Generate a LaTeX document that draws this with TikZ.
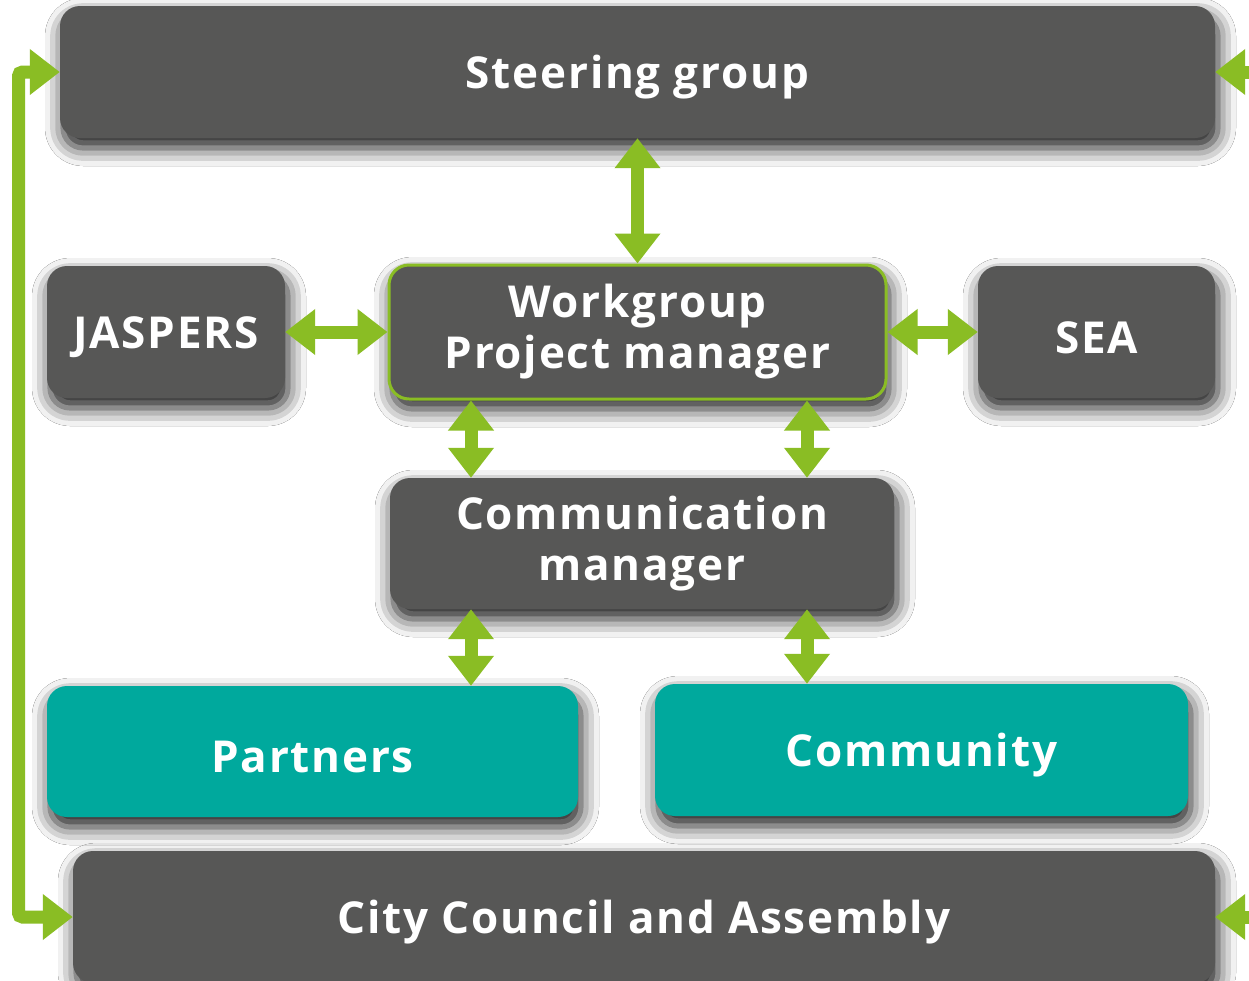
\documentclass[tikz,border=0pt]{standalone}
\usepackage{fontspec}
\setmainfont{Open Sans}[LetterSpace=4]
\usetikzlibrary{arrows.meta,shadows.blur,calc}
\definecolor{boxgray}{HTML}{575756}
\definecolor{agreen}{HTML}{8ABD24}
\definecolor{teal}{HTML}{00A99D}
\tikzset{
  box/.style={rectangle, rounded corners=20pt, fill=boxgray, text=white,
    font=\fontsize{44}{51}\selectfont\bfseries, align=center, inner sep=0pt,
    execute at begin node={\rule{0pt}{43pt}},
    blur shadow={shadow xshift=3pt, shadow yshift=-10pt, shadow blur radius=18pt, shadow opacity=90}},
  tealbox/.style={box, fill=teal},
  biarrow/.style={draw=agreen, line width=13pt,
    {Triangle[width=44pt,length=30pt]}-{Triangle[width=44pt,length=30pt]}},
  oneway/.style={draw=agreen, line width=13pt, -{Triangle[width=44pt,length=30pt]}},
}
\begin{document}
\begin{tikzpicture}[x=1pt,y=-1pt]
\useasboundingbox (0,0) rectangle (1249,980);
\fill[white] (0,0) rectangle (1249,980);
\node[box, minimum width=1155pt, minimum height=132pt] (steer) at (637.5,72) {Steering group};
\node[box, minimum width=238pt, minimum height=132pt] (jas) at (166,332) {JASPERS};
\node[box, minimum width=497pt, minimum height=134pt, draw=agreen, line width=3pt] (work) at (637.5,332) {Workgroup\\Project manager};
\node[box, minimum width=237pt, minimum height=132pt] (sea) at (1096.5,332) {SEA};
\node[box, minimum width=504pt, minimum height=131pt] (comm) at (642,543.5) {Communication\\manager};
\node[tealbox, minimum width=531pt, minimum height=131pt] (part) at (312.5,751.5) {Partners};
\node[tealbox, minimum width=533pt, minimum height=132pt] (commu) at (921.5,750) {Community};
\node[box, minimum width=1142pt, minimum height=132pt] (city) at (644,917) {City Council and Assembly};

\coordinate (xa) at (471,0);
\coordinate (xb) at (807,0);
\coordinate (loopx) at (18.5,0);
\coordinate (rightx) at (1290,0);

\draw[biarrow] (steer.south) -- (work.north);
\draw[biarrow] (jas.east) -- (work.west);
\draw[biarrow] (work.east) -- (sea.west);
\draw[biarrow] (work.south -| xa) -- (comm.north -| xa);
\draw[biarrow] (work.south -| xb) -- (comm.north -| xb);
\draw[biarrow] (comm.south -| xa) -- (part.north -| xa);
\draw[biarrow] (comm.south -| xb) -- (commu.north -| xb);
\draw[biarrow, rounded corners=4pt] (steer.west) -- (steer.west -| loopx) -- (city.west -| loopx) -- (city.west);
\draw[oneway] (steer.east -| rightx) -- (steer.east);
\draw[oneway] (city.east -| rightx) -- (city.east);
\end{tikzpicture}
\end{document}
